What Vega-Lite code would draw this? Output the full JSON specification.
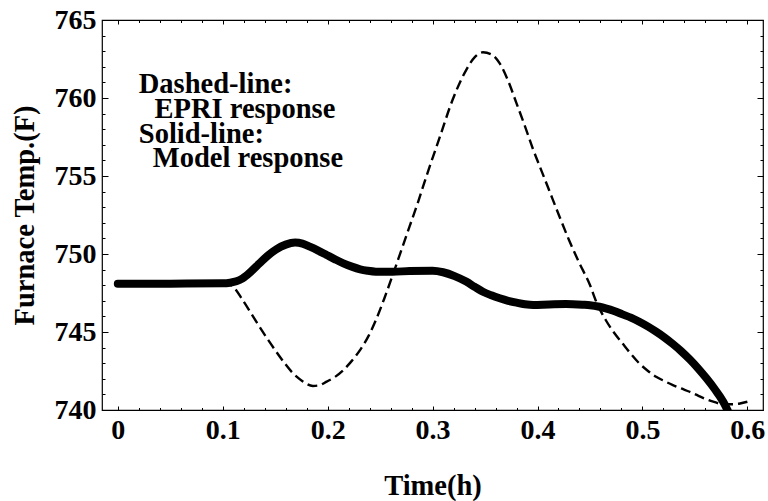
{
  "$schema": "https://vega.github.io/schema/vega-lite/v6.json",
  "autosize": {"type": "none"},
  "width": 661,
  "height": 390,
  "padding": {"left": 102, "top": 20, "right": 5, "bottom": 91},
  "background": "white",
  "config": {
    "view": {"stroke": "black", "strokeWidth": 1.2},
    "axis": {
      "labelFont": "Liberation Serif", "labelFontWeight": "bold", "labelFontSize": 28, "labelColor": "black",
      "titleFont": "Liberation Serif", "titleFontWeight": "bold", "titleFontSize": 28.5, "titleColor": "black",
      "tickColor": "black", "tickWidth": 1, "domain": false, "grid": false
    }
  },
  "datasets": {
    "solid": [
      {"t": 0, "T": 748.1}, {"t": 0.05, "T": 748.1}, {"t": 0.1, "T": 748.12}, {"t": 0.107, "T": 748.16},
      {"t": 0.113, "T": 748.25}, {"t": 0.119, "T": 748.44}, {"t": 0.127, "T": 748.88}, {"t": 0.135, "T": 749.4},
      {"t": 0.143, "T": 749.9}, {"t": 0.151, "T": 750.3}, {"t": 0.16, "T": 750.6}, {"t": 0.169, "T": 750.73},
      {"t": 0.176, "T": 750.66}, {"t": 0.183, "T": 750.47}, {"t": 0.191, "T": 750.22}, {"t": 0.199, "T": 749.94},
      {"t": 0.207, "T": 749.66}, {"t": 0.215, "T": 749.4}, {"t": 0.223, "T": 749.19}, {"t": 0.231, "T": 749.02},
      {"t": 0.238, "T": 748.93}, {"t": 0.246, "T": 748.87}, {"t": 0.262, "T": 748.86}, {"t": 0.278, "T": 748.91},
      {"t": 0.3, "T": 748.93}, {"t": 0.31, "T": 748.83}, {"t": 0.321, "T": 748.58}, {"t": 0.332, "T": 748.23},
      {"t": 0.34, "T": 747.9}, {"t": 0.348, "T": 747.58}, {"t": 0.356, "T": 747.35}, {"t": 0.364, "T": 747.16},
      {"t": 0.372, "T": 747.0}, {"t": 0.38, "T": 746.88}, {"t": 0.388, "T": 746.78}, {"t": 0.396, "T": 746.73},
      {"t": 0.411, "T": 746.77}, {"t": 0.427, "T": 746.79}, {"t": 0.443, "T": 746.75}, {"t": 0.45, "T": 746.72},
      {"t": 0.459, "T": 746.62}, {"t": 0.465, "T": 746.52}, {"t": 0.473, "T": 746.35}, {"t": 0.481, "T": 746.13},
      {"t": 0.489, "T": 745.92}, {"t": 0.497, "T": 745.66}, {"t": 0.505, "T": 745.36}, {"t": 0.513, "T": 745.02},
      {"t": 0.521, "T": 744.65}, {"t": 0.529, "T": 744.23}, {"t": 0.537, "T": 743.77}, {"t": 0.545, "T": 743.25},
      {"t": 0.553, "T": 742.67}, {"t": 0.561, "T": 742.03}, {"t": 0.569, "T": 741.33}, {"t": 0.577, "T": 740.53},
      {"t": 0.581, "T": 740.0}, {"t": 0.583, "T": 739.7}
    ],
    "dashed": [
      {"t": 0, "T": 748.1}, {"t": 0.105, "T": 748.1}, {"t": 0.11, "T": 747.9}, {"t": 0.119, "T": 747.05},
      {"t": 0.127, "T": 746.2}, {"t": 0.135, "T": 745.34}, {"t": 0.143, "T": 744.52}, {"t": 0.151, "T": 743.74},
      {"t": 0.159, "T": 743.0}, {"t": 0.167, "T": 742.35}, {"t": 0.176, "T": 741.85}, {"t": 0.186, "T": 741.54},
      {"t": 0.192, "T": 741.58}, {"t": 0.199, "T": 741.82}, {"t": 0.207, "T": 742.12}, {"t": 0.215, "T": 742.56},
      {"t": 0.223, "T": 743.15}, {"t": 0.231, "T": 743.85}, {"t": 0.239, "T": 744.75}, {"t": 0.246, "T": 745.77},
      {"t": 0.254, "T": 747.15}, {"t": 0.262, "T": 748.65}, {"t": 0.27, "T": 750.2}, {"t": 0.278, "T": 751.75},
      {"t": 0.286, "T": 753.3}, {"t": 0.294, "T": 754.96}, {"t": 0.307, "T": 757.52}, {"t": 0.319, "T": 759.87},
      {"t": 0.332, "T": 761.79}, {"t": 0.34, "T": 762.6}, {"t": 0.348, "T": 762.93}, {"t": 0.356, "T": 762.8},
      {"t": 0.364, "T": 762.22}, {"t": 0.372, "T": 761.1}, {"t": 0.38, "T": 759.66}, {"t": 0.388, "T": 758.2},
      {"t": 0.396, "T": 756.67}, {"t": 0.404, "T": 755.3}, {"t": 0.411, "T": 754.1}, {"t": 0.421, "T": 752.39},
      {"t": 0.43, "T": 750.9}, {"t": 0.44, "T": 749.4}, {"t": 0.45, "T": 748.01}, {"t": 0.456, "T": 746.94},
      {"t": 0.465, "T": 745.77}, {"t": 0.473, "T": 744.95}, {"t": 0.481, "T": 744.27}, {"t": 0.489, "T": 743.6},
      {"t": 0.497, "T": 742.99}, {"t": 0.505, "T": 742.52}, {"t": 0.513, "T": 742.13}, {"t": 0.521, "T": 741.85},
      {"t": 0.529, "T": 741.6}, {"t": 0.537, "T": 741.38}, {"t": 0.545, "T": 741.17}, {"t": 0.553, "T": 740.92},
      {"t": 0.561, "T": 740.68}, {"t": 0.569, "T": 740.5}, {"t": 0.577, "T": 740.37}, {"t": 0.586, "T": 740.37},
      {"t": 0.593, "T": 740.42}, {"t": 0.6, "T": 740.53}
    ],
    "notes": [
      {"t": 0.02, "T": 760.3, "label": "Dashed-line:"},
      {"t": 0.035, "T": 758.72, "label": "EPRI response"},
      {"t": 0.02, "T": 757.14, "label": "Solid-line:"},
      {"t": 0.0334, "T": 755.56, "label": "Model response"}
    ]
  },
  "resolve": {"axis": {"x": "independent", "y": "independent"}},
  "layer": [
    {
      "data": {"name": "dashed"},
      "mark": {"type": "line", "color": "black", "strokeWidth": 2.4, "strokeDash": [10, 5], "interpolate": "monotone", "clip": true},
      "encoding": {
        "x": {"field": "t", "type": "quantitative", "scale": {"domain": [-0.01506, 0.6149], "nice": false, "zero": false},
              "axis": {"orient": "top", "values": [0, 0.1, 0.2, 0.3, 0.4, 0.5, 0.6], "tickSize": -4, "labels": false, "title": null}},
        "y": {"field": "T", "type": "quantitative", "scale": {"domain": [740, 765], "nice": false, "zero": false},
              "axis": {"orient": "right", "values": [740, 745, 750, 755, 760, 765], "tickSize": -6, "labels": false, "title": null}}
      }
    },
    {
      "data": {"name": "solid"},
      "mark": {"type": "line", "color": "black", "strokeWidth": 8, "strokeCap": "round", "interpolate": "monotone", "clip": true},
      "encoding": {
        "x": {"field": "t", "type": "quantitative", "scale": {"domain": [-0.01506, 0.6149], "nice": false, "zero": false},
              "axis": {"orient": "bottom", "values": [0, 0.1, 0.2, 0.3, 0.4, 0.5, 0.6], "format": "~g", "tickSize": -4, "labelPadding": 10, "title": "Time(h)", "titlePadding": 27, "labelFlush": false, "labelOverlap": false}},
        "y": {"field": "T", "type": "quantitative", "scale": {"domain": [740, 765], "nice": false, "zero": false},
              "axis": {"orient": "left", "values": [740, 745, 750, 755, 760, 765], "tickSize": -6, "labelPadding": 12, "title": "Furnace Temp.(F)", "titlePadding": 15, "labelFlush": false, "labelOverlap": false}}
      }
    },
    {
      "data": {"name": "notes"},
      "mark": {"type": "text", "align": "left", "baseline": "alphabetic", "font": "Liberation Serif", "fontWeight": "bold", "fontSize": 28.5, "color": "black"},
      "encoding": {
        "x": {"field": "t", "type": "quantitative", "scale": {"domain": [-0.01506, 0.6149], "nice": false, "zero": false},
              "axis": {"orient": "bottom", "values": [0, 0.02, 0.04, 0.06, 0.08, 0.1, 0.12, 0.14, 0.16, 0.18, 0.2, 0.22, 0.24, 0.26, 0.28, 0.3, 0.32, 0.34, 0.36, 0.38, 0.4, 0.42, 0.44, 0.46, 0.48, 0.5, 0.52, 0.54, 0.56, 0.58, 0.6], "tickSize": -2.5, "labels": false, "title": null}},
        "y": {"field": "T", "type": "quantitative", "scale": {"domain": [740, 765], "nice": false, "zero": false},
              "axis": {"orient": "left", "values": [740, 741, 742, 743, 744, 745, 746, 747, 748, 749, 750, 751, 752, 753, 754, 755, 756, 757, 758, 759, 760, 761, 762, 763, 764, 765], "tickSize": -3, "labels": false, "title": null}},
        "text": {"field": "label", "type": "nominal"}
      }
    },
    {
      "data": {"name": "solid"},
      "mark": {"type": "point", "opacity": 0},
      "encoding": {
        "x": {"field": "t", "type": "quantitative", "scale": {"domain": [-0.01506, 0.6149], "nice": false, "zero": false},
              "axis": {"orient": "top", "values": [0, 0.02, 0.04, 0.06, 0.08, 0.1, 0.12, 0.14, 0.16, 0.18, 0.2, 0.22, 0.24, 0.26, 0.28, 0.3, 0.32, 0.34, 0.36, 0.38, 0.4, 0.42, 0.44, 0.46, 0.48, 0.5, 0.52, 0.54, 0.56, 0.58, 0.6], "tickSize": -2.5, "labels": false, "title": null}},
        "y": {"field": "T", "type": "quantitative", "scale": {"domain": [740, 765], "nice": false, "zero": false},
              "axis": {"orient": "right", "values": [740, 741, 742, 743, 744, 745, 746, 747, 748, 749, 750, 751, 752, 753, 754, 755, 756, 757, 758, 759, 760, 761, 762, 763, 764, 765], "tickSize": -3, "labels": false, "title": null}}
      }
    }
  ]
}
